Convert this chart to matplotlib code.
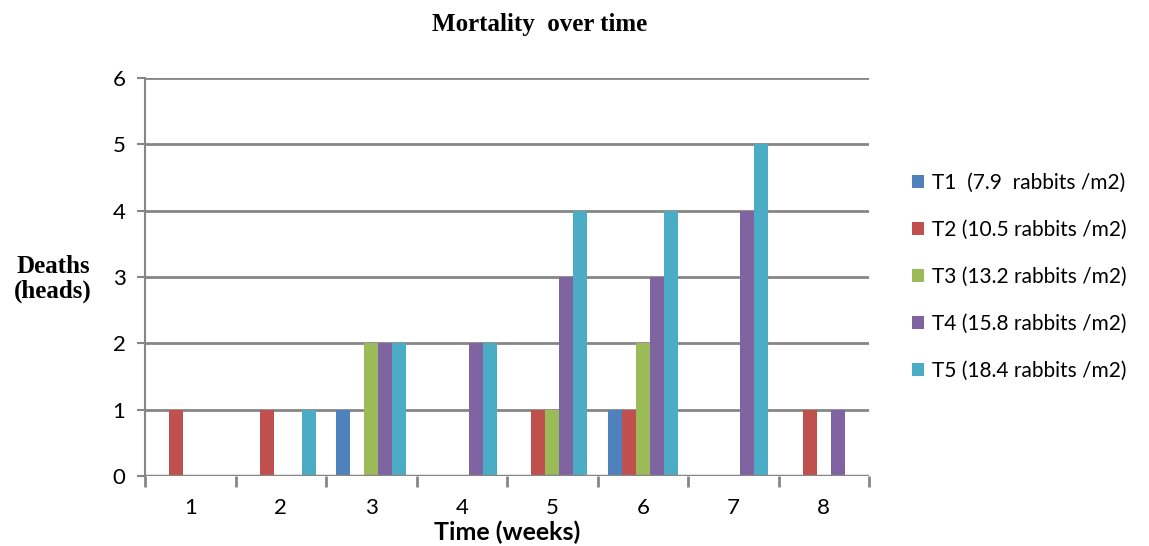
import numpy as np
import matplotlib
matplotlib.use("Agg")
import matplotlib.pyplot as plt

# Données
semaines = ["1", "2", "3", "4", "5", "6", "7", "8"]
series = ["T1  (7.9  rabbits /m2)", "T2 (10.5 rabbits /m2)", "T3 (13.2 rabbits /m2)",
          "T4 (15.8 rabbits /m2)", "T5 (18.4 rabbits /m2)"]
t1 = [0, 0, 1, 0, 0, 1, 0, 0]
t2 = [1, 1, 0, 0, 1, 1, 0, 1]
t3 = [0, 0, 2, 0, 1, 2, 0, 0]
t4 = [0, 0, 2, 2, 3, 3, 4, 1]
t5 = [0, 1, 2, 2, 4, 4, 5, 0]
couleurs = ["#4F81BD", "#C0504D", "#9BBB59", "#8064A2", "#4BACC6"]

valeurs = [t1, t2, t3, t4, t5]

fig = plt.figure(figsize=(11.49, 5.46), dpi=100)
ax = fig.add_axes([145/1149, 70/546, 724/1149, 398/546])

x = np.arange(len(semaines))
largeur = 0.155
for i, (v, c, nom) in enumerate(zip(valeurs, couleurs, series)):
    ax.bar(x + (i - 2) * largeur, v, largeur, color=c, label=nom, zorder=3)

gris = "#868686"
ax.set_xlim(-0.5, len(semaines) - 0.5)
ax.set_ylim(0, 6)
ax.set_yticks(range(7))
ax.yaxis.grid(True, color=gris, linewidth=2, zorder=0)
for s in ["top", "right", "bottom"]:
    ax.spines[s].set_visible(False)
ax.spines["left"].set_color(gris)
ax.spines["left"].set_linewidth(1.5)
ax.axhline(0, color=gris, linewidth=2.5, zorder=4)

# ticks entre les catégories
ax.set_xticks(np.arange(-0.5, len(semaines)), minor=False)
ax.set_xticklabels([])
ax.set_xticks(x, minor=True)
ax.set_xticklabels(semaines, minor=True, fontsize=16, family="Lato")
ax.tick_params(axis="x", which="major", length=8, width=2, color=gris)
ax.tick_params(axis="x", which="minor", length=0, pad=16)
ax.tick_params(axis="y", length=6, width=1.5, color=gris, labelsize=16, pad=8)
for lab in ax.get_yticklabels():
    lab.set_family("Lato")

fig.text(540/1149, 1 - 24/546, "Mortality  over time", ha="center", va="center",
         fontsize=18, fontweight="bold", family="Liberation Serif")
fig.text(53/1149, 1 - 279/546, "Deaths\n(heads)", ha="center", va="center",
         fontsize=18, fontweight="bold", family="Liberation Serif", linespacing=1.05)
fig.text(507/1149, 1 - 532/546, "Time (weeks)", ha="center", va="center",
         fontsize=18, fontweight="bold", family="Lato")

fig.legend(loc="center left", bbox_to_anchor=(893/1149, 1 - 277/546), frameon=False,
           prop={"family": "Lato", "size": 15}, handlelength=0.6, handleheight=0.6,
           handletextpad=0.35, labelspacing=1.3)

fig.savefig("out.png", dpi=100)
